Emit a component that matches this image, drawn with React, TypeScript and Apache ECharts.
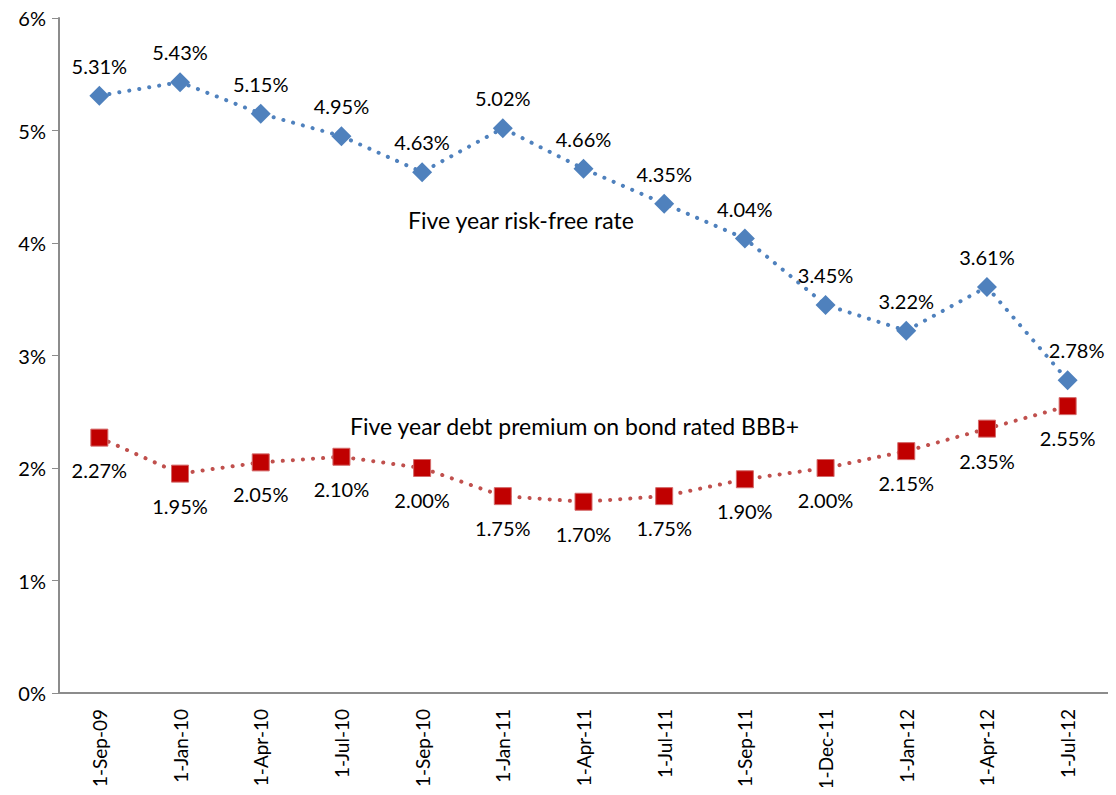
import React, { useEffect, useRef } from "react";
import * as echarts from "echarts";

const categories = ["1-Sep-09", "1-Jan-10", "1-Apr-10", "1-Jul-10", "1-Sep-10", "1-Jan-11", "1-Apr-11", "1-Jul-11", "1-Sep-11", "1-Dec-11", "1-Jan-12", "1-Apr-12", "1-Jul-12"];
const riskFree = [5.31, 5.43, 5.15, 4.95, 4.63, 5.02, 4.66, 4.35, 4.04, 3.45, 3.22, 3.61, 2.78];
const premium = [2.27, 1.95, 2.05, 2.1, 2.0, 1.75, 1.7, 1.75, 1.9, 2.0, 2.15, 2.35, 2.55];
const riskFreeName = "Five year risk-free rate";
const premiumName = "Five year debt premium on bond rated BBB+";

const FONT = "Lato, 'Open Sans', sans-serif";

export default function App() {
  const ref = useRef<HTMLDivElement>(null);
  useEffect(() => {
    if (!ref.current) return;
    const chart = echarts.init(ref.current, undefined, { renderer: "svg" });
    chart.setOption({
      animation: false,
      textStyle: { fontFamily: FONT },
      grid: { left: 59, right: 8, top: 18, bottom: 102, containLabel: false },
      xAxis: {
        type: "category",
        data: categories,
        boundaryGap: true,
        axisLine: { lineStyle: { color: "#8c8c8c", width: 2 } },
        axisTick: { show: false },
        axisLabel: { rotate: 90, color: "#000", fontSize: 19, fontFamily: FONT, margin: 16, interval: 0 },
      },
      yAxis: {
        type: "value",
        min: 0,
        max: 6,
        interval: 1,
        splitLine: { show: false },
        axisLine: { show: true, lineStyle: { color: "#8c8c8c", width: 2 } },
        axisTick: { show: true, length: 7, lineStyle: { color: "#8c8c8c", width: 1 } },
        axisLabel: { color: "#000", fontSize: 20, fontFamily: FONT, margin: 13, formatter: (v: number) => v + "%" },
      },
      series: [
        {
          name: riskFreeName,
          type: "line",
          data: riskFree,
          symbol: "diamond",
          symbolSize: 20,
          itemStyle: { color: "#4F81BD" },
          lineStyle: { color: "#4F81BD", width: 4, type: [0.1, 10], cap: "round" },
          label: {
            show: true,
            position: "top",
            distance: 10,
            color: "#000",
            fontSize: 20,
            fontFamily: FONT,
            formatter: (p: any) => p.value.toFixed(2) + "%",
          },
          labelLayout: (p: any) => (p.dataIndex === 12 ? { dx: 9 } : {}),
        },
        {
          name: premiumName,
          type: "line",
          data: premium,
          symbol: "rect",
          symbolSize: 17,
          itemStyle: { color: "#C00000", borderColor: "#D46A6A", borderWidth: 1 },
          lineStyle: { color: "#C0504D", width: 4, type: [0.1, 10], cap: "round" },
          label: {
            show: true,
            position: "bottom",
            distance: 13,
            color: "#000",
            fontSize: 20,
            fontFamily: FONT,
            formatter: (p: any) => p.value.toFixed(2) + "%",
          },
        },
      ],
      graphic: [
        { type: "text", left: 408, top: 208, style: { text: riskFreeName, fontSize: 23, fontFamily: FONT, fill: "#000" } },
        { type: "text", left: 350, top: 414, style: { text: premiumName, fontSize: 23, fontFamily: FONT, fill: "#000" } },
      ],
    });
    return () => chart.dispose();
  }, []);
  return <div ref={ref} style={{ width: 1116, height: 795, margin: -8 }} />;
}
